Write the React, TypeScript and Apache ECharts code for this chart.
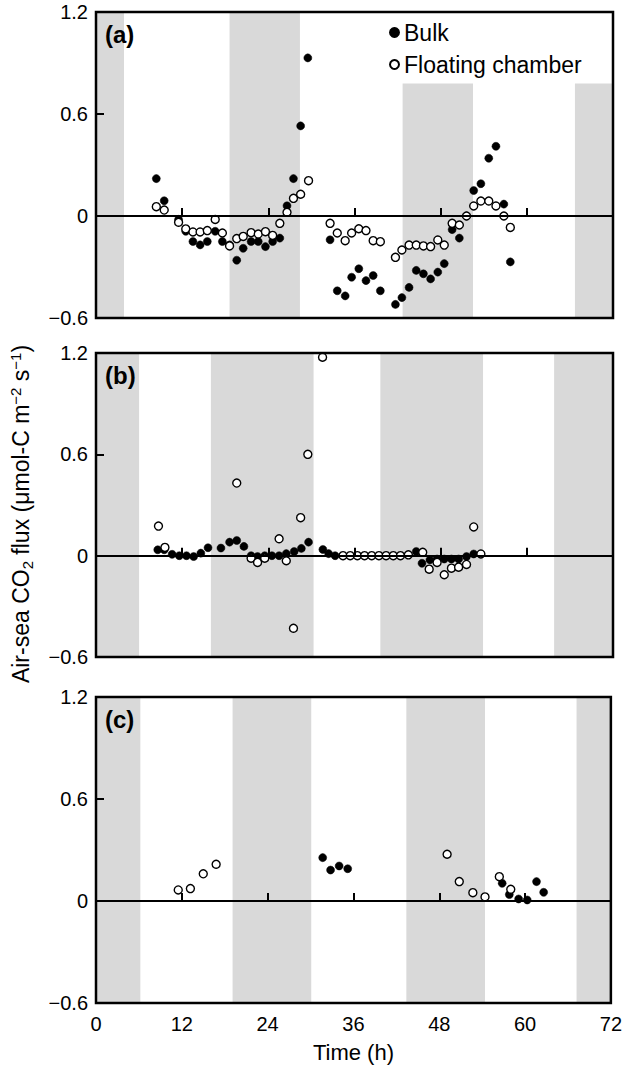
import React, { useEffect, useRef } from "react";
import * as echarts from "echarts";

// ---------- data ----------
const xTicks = [0, 12, 24, 36, 48, 60, 72];
const yTicks = [-0.6, 0, 0.6, 1.2];
const panelLabels = ["(a)", "(b)", "(c)"];
const seriesNames = ["Bulk", "Floating chamber"];

// panel (a)
const bulkA: [number, number][] = [
  [8.4, 0.22], [9.5, 0.09], [11.5, -0.02], [12.5, -0.09], [13.5, -0.15], [14.5, -0.17], [15.5, -0.15],
  [16.6, -0.09], [17.6, -0.15], [18.6, -0.17], [19.6, -0.26], [20.5, -0.19], [21.6, -0.15], [22.6, -0.15],
  [23.6, -0.18], [24.6, -0.15], [25.6, -0.13], [26.6, 0.06], [27.5, 0.22], [28.5, 0.53], [29.5, 0.93],
  [32.6, -0.14], [33.6, -0.44], [34.7, -0.47], [35.6, -0.36], [36.6, -0.31], [37.6, -0.38], [38.6, -0.35],
  [39.6, -0.44], [41.7, -0.52], [42.6, -0.48], [43.6, -0.42], [44.6, -0.32], [45.6, -0.34], [46.6, -0.37],
  [47.6, -0.33], [48.5, -0.28], [49.6, -0.08], [50.6, -0.13], [51.6, 0.0], [52.6, 0.15], [53.6, 0.19],
  [54.7, 0.34], [55.7, 0.41], [56.8, 0.07], [57.7, -0.27],
];
const floatA: [number, number][] = [
  [8.4, 0.055], [9.5, 0.035], [11.5, -0.037], [12.5, -0.076], [13.5, -0.094], [14.5, -0.094], [15.5, -0.086],
  [16.6, -0.02], [17.6, -0.1], [18.6, -0.176], [19.6, -0.133], [20.5, -0.12], [21.6, -0.098], [22.6, -0.106],
  [23.6, -0.092], [24.6, -0.114], [25.6, -0.043], [26.6, 0.022], [27.5, 0.104], [28.5, 0.128], [29.6, 0.208],
  [32.6, -0.043], [33.6, -0.1], [34.7, -0.145], [35.6, -0.1], [36.6, -0.075], [37.6, -0.086], [38.6, -0.145],
  [39.6, -0.151], [41.7, -0.243], [42.6, -0.2], [43.6, -0.171], [44.6, -0.171], [45.6, -0.176], [46.6, -0.18],
  [47.6, -0.141], [48.5, -0.171], [49.6, -0.043], [50.6, -0.053], [51.6, 0.0], [52.6, 0.059], [53.6, 0.088],
  [54.7, 0.088], [55.7, 0.059], [56.8, 0.0], [57.7, -0.067],
];

// panel (b)
const bulkB: [number, number][] = [
  [8.6, 0.035], [9.5, 0.035], [10.6, 0.008], [11.6, 0.0], [12.6, 0.0], [13.6, -0.005], [14.6, 0.015],
  [15.6, 0.047], [17.4, 0.045], [18.6, 0.08], [19.6, 0.09], [20.6, 0.055], [21.6, 0.0], [22.5, -0.005],
  [23.5, 0.0], [24.5, 0.0], [25.5, 0.0], [26.5, 0.012], [27.6, 0.025], [28.6, 0.043], [29.6, 0.08],
  [31.6, 0.037], [32.4, 0.012], [33.3, 0.0], [44.6, 0.025], [45.4, -0.045], [46.5, -0.025], [47.5, -0.02],
  [48.5, -0.02], [49.5, -0.02], [50.5, -0.02], [51.6, -0.005], [52.6, 0.01],
];
const floatB: [number, number][] = [
  [8.7, 0.175], [9.6, 0.049], [19.6, 0.43], [21.6, -0.015], [22.5, -0.04], [23.5, -0.015], [25.5, 0.1],
  [26.5, -0.03], [27.5, -0.43], [28.5, 0.225], [29.5, 0.6], [31.55, 1.175], [34.4, 0.0], [35.4, 0.0],
  [36.4, 0.0], [37.4, 0.0], [38.4, 0.0], [39.4, 0.0], [40.4, 0.0], [41.4, 0.0], [42.4, 0.0], [43.5, 0.005],
  [45.5, 0.02], [46.4, -0.08], [47.5, -0.04], [48.5, -0.113], [49.5, -0.074], [50.5, -0.068], [51.6, -0.052],
  [52.6, 0.17], [53.6, 0.01],
];

// panel (c)
const bulkC: [number, number][] = [
  [31.7, 0.255], [32.8, 0.182], [34.0, 0.206], [35.2, 0.19], [56.8, 0.104], [57.8, 0.038], [59.1, 0.012],
  [60.3, 0.006], [61.6, 0.114], [62.6, 0.051],
];
const floatC: [number, number][] = [
  [11.5, 0.065], [13.2, 0.073], [15.0, 0.16], [16.8, 0.216], [49.1, 0.275], [50.8, 0.114], [52.7, 0.049],
  [54.4, 0.024], [56.4, 0.143], [58.0, 0.069],
];

// night periods (grey bands), start/end hour; top value of each band
const nightA = [[0, 3.9], [18.6, 28.4], [42.7, 52.5], [66.7, 72]];
const nightTopA = [1.2, 1.2, 0.78, 0.78];
const nightB = [[0, 6.0], [16.0, 30.3], [39.6, 53.9], [63.8, 72]];
const nightTopB = [1.2, 1.2, 1.2, 1.2];
const nightC = [[0, 6.2], [19.1, 30.1], [43.4, 54.4], [67.2, 72]];
const nightTopC = [1.2, 1.2, 1.2, 1.2];

const bulkSets = [bulkA, bulkB, bulkC];
const floatSets = [floatA, floatB, floatC];
const nightSets = [nightA, nightB, nightC];
const nightTops = [nightTopA, nightTopB, nightTopC];

// ---------- layout ----------
const FONT = "'Liberation Sans', Arial, sans-serif";
const gridTops = [12, 353, 697];
const gridHeights = [306, 304, 306];
const GRID_LEFT = 96;
const GRID_WIDTH = 517;

export default function App() {
  const ref = useRef<HTMLDivElement>(null);

  useEffect(() => {
    if (!ref.current) return;
    const chart = echarts.init(ref.current, null, { renderer: "svg" });

    const grids = gridTops.map((top, i) => ({
      left: GRID_LEFT,
      top,
      width: GRID_WIDTH,
      height: gridHeights[i],
      show: true,
      backgroundColor: "transparent",
      borderColor: "#000",
      borderWidth: 2.5,
      z: 10,
    }));

    const xAxes = gridTops.map((_, i) => ({
      type: "value",
      gridIndex: i,
      min: xTicks[0],
      max: xTicks[xTicks.length - 1],
      interval: 12,
      z: 11,
      axisLine: { show: false },
      axisTick: { show: true, inside: true, length: 8, lineStyle: { color: "#000", width: 2 } },
      splitLine: { show: false },
      axisLabel: {
        show: i === 2,
        color: "#000",
        fontSize: 20,
        fontFamily: FONT,
        margin: 11,
      },
      name: i === 2 ? "Time (h)" : "",
      nameLocation: "middle",
      nameGap: 38,
      nameTextStyle: { color: "#000", fontSize: 22, fontFamily: FONT },
    }));

    const yAxes = gridTops.map((_, i) => ({
      type: "value",
      gridIndex: i,
      min: yTicks[0],
      max: yTicks[yTicks.length - 1],
      interval: 0.6,
      z: 11,
      axisLine: { show: false },
      axisTick: { show: true, inside: true, length: 8, lineStyle: { color: "#000", width: 2 } },
      splitLine: { show: false },
      axisLabel: {
        color: "#000",
        fontSize: 20,
        fontFamily: FONT,
        margin: 8,
        formatter: (v: number) => {
          const s = String(Math.round(v * 10) / 10);
          return s.replace("-", "\u2212");
        },
      },
    }));

    const series: any[] = [];
    for (let i = 0; i < 3; i++) {
      series.push({
        type: "line",
        name: "night" + i,
        xAxisIndex: i,
        yAxisIndex: i,
        data: [],
        z: 1,
        silent: true,
        markArea: {
          silent: true,
          itemStyle: { color: "#d9d9d9" },
          data: nightSets[i].map((b, k) => [
            { xAxis: b[0], yAxis: -0.6 },
            { xAxis: b[1], yAxis: nightTops[i][k] },
          ]),
        },
        markLine: {
          silent: true,
          symbol: "none",
          label: { show: false },
          lineStyle: { color: "#000", width: 2, type: "solid" },
          data: [{ yAxis: 0 }],
        },
      });
      series.push({
        type: "scatter",
        name: seriesNames[0],
        xAxisIndex: i,
        yAxisIndex: i,
        data: bulkSets[i],
        symbol: "circle",
        symbolSize: 8,
        z: 3,
        itemStyle: { color: "#000", borderColor: "#000", borderWidth: 0.5, opacity: 1 },
      });
      series.push({
        type: "scatter",
        name: seriesNames[1],
        xAxisIndex: i,
        yAxisIndex: i,
        data: floatSets[i],
        symbol: "circle",
        symbolSize: 8,
        z: 4,
        itemStyle: { color: "#fff", borderColor: "#000", borderWidth: 1.4, opacity: 1 },
      });
    }

    const graphic: any[] = panelLabels.map((t, i) => ({
      type: "text",
      left: 105,
      top: gridTops[i] + 10,
      z: 20,
      style: { text: t, fill: "#000", font: `bold 24px ${FONT}` },
    }));
    graphic.push({
      type: "text",
      x: 21,
      y: 514,
      rotation: Math.PI / 2,
      z: 20,
      style: {
        text: "{n|Air-sea CO}{sub|2}{n| flux (\u03bcmol-C m}{sup|\u22122}{n| s}{sup|\u22121}{n|)}",
        align: "center",
        verticalAlign: "middle",
        fill: "#000",
        rich: {
          n: { fontSize: 23, fontFamily: FONT, lineHeight: 27, fill: "#000" },
          sub: { fontSize: 15, fontFamily: FONT, lineHeight: 15, verticalAlign: "bottom", fill: "#000" },
          sup: { fontSize: 15, fontFamily: FONT, lineHeight: 15, verticalAlign: "top", fill: "#000" },
        },
      },
    });

    chart.setOption({
      animation: false,
      backgroundColor: "#fff",
      textStyle: { fontFamily: FONT },
      grid: grids,
      xAxis: xAxes,
      yAxis: yAxes,
      legend: {
        data: seriesNames,
        orient: "vertical",
        left: 384,
        top: 16,
        itemGap: 9,
        itemWidth: 9,
        itemHeight: 9,
        icon: "circle",
        textStyle: { fontSize: 23, fontFamily: FONT, color: "#000" },
        selectedMode: false,
        z: 20,
      },
      series,
      graphic,
    });

    return () => chart.dispose();
  }, []);

  return (
    <div
      ref={ref}
      style={{ position: "fixed", left: 0, top: 0, width: 625, height: 1067, background: "#fff" }}
    />
  );
}
